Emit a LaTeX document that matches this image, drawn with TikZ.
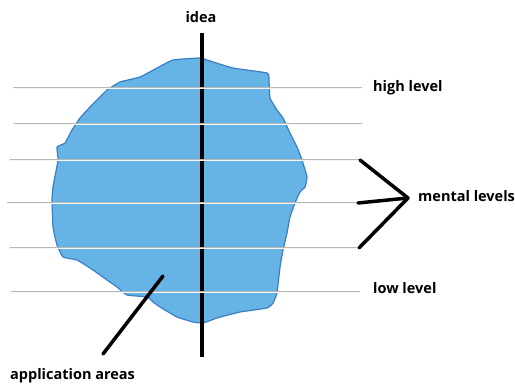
\documentclass[tikz,border=0pt]{standalone}
\usepackage{fontspec}
\setmainfont{Open Sans}
\usetikzlibrary{positioning}
\usepackage{xcolor}

\begin{document}
\begin{tikzpicture}[
    x=1pt, y=-1pt,
    font=\fontsize{14.5}{16}\selectfont\bfseries,
    levellabel/.style={
        anchor=west,
        inner sep=0pt
    },
    levelline/.style={
        draw=black!28,
        line width=2.4pt
    },
    levelcore/.style={
        draw=black!4,
        line width=0.7pt
    },
    thickline/.style={
        line width=3.5pt,
        line cap=round
    }
]

% ---------------------------------
% Colors
% ---------------------------------
\definecolor{blobfill}{HTML}{66B3E6}
\definecolor{blobedge}{HTML}{3B7FC2}

\useasboundingbox (0,0) rectangle (515,384);

% ---------------------------------
% Application area (blob)
% ---------------------------------
\fill[blobfill, draw=blobedge, line width=1.2pt, line join=round]
    plot[smooth cycle, tension=0.25] coordinates {
    (173,60) (200,58) (207,60) (233,68) (267,73) (269,80) (270,98)
    (277,110) (283,118) (290,133) (297,147) (302,160) (307,177)
    (305,187) (300,192) (295,203) (290,217) (287,233) (283,250)
    (280,267) (277,293) (273,303) (267,308) (240,312) (217,318)
    (203,323) (193,322) (177,317) (160,307) (153,302) (147,297)
    (127,295) (117,287) (107,280) (93,270) (77,260) (63,257)
    (57,245) (53,227) (52,200) (53,187) (58,160) (57,147) (65,143)
    (72,130) (80,118) (90,107) (100,97) (107,90) (120,82) (140,77)
    (157,68)};

% ---------------------------------
% Idea axis
% ---------------------------------
\node (idea) at (201,17) {idea};
\coordinate (ideatop) at (202,33);
\coordinate (ideabot) at (202,357);
\draw[thickline, line cap=butt] (ideatop) -- (ideabot);

% ---------------------------------
% Levels
% ---------------------------------
\coordinate (l1w) at (13,88);   \coordinate (l1e) at (362,88);
\coordinate (l2w) at (14,124);  \coordinate (l2e) at (362,124);
\coordinate (l3w) at (10,160);  \coordinate (l3e) at (360,160);
\coordinate (l4w) at (7,203);   \coordinate (l4e) at (358,203);
\coordinate (l5w) at (10,248);  \coordinate (l5e) at (359,248);
\coordinate (l6w) at (11,292);  \coordinate (l6e) at (360,292);

\foreach \i in {1,...,6}{
    \draw[levelline] (l\i w) -- (l\i e);
    \draw[levelcore] (l\i w) -- (l\i e);
}

\node[levellabel] (high) at (373,88) {high level};
\node[levellabel] (low) at (373,288) {low level};

% ---------------------------------
% Mental levels bracket
% ---------------------------------
\coordinate (apex) at (408,198);
\node[levellabel] (mental) at (418,196) {mental levels};

\draw[thickline] (l3e) -- (apex);
\draw[thickline] (l4e) -- (apex);
\draw[thickline] (l5e) -- (apex);

% ---------------------------------
% Application areas pointer
% ---------------------------------
\node[levellabel] (areas) at (10,376) {application areas};
\coordinate (inblob) at (163,276);
\coordinate (tail) at (103,354);
\draw[thickline] (tail) -- (inblob);

\end{tikzpicture}
\end{document}
